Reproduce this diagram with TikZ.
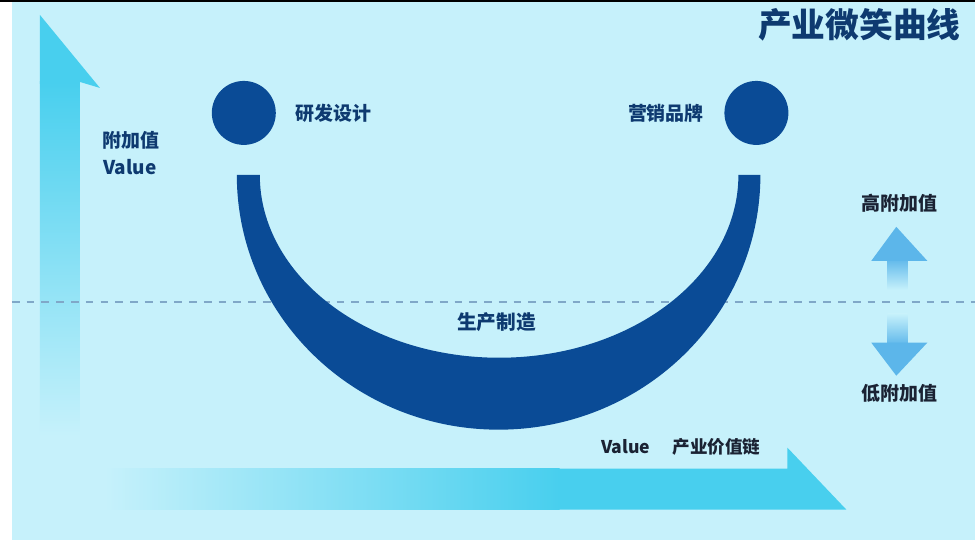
\documentclass[tikz,border=0pt]{standalone}
\usepackage{fontspec}
\newfontfamily\cjk{Noto Sans CJK SC}
\usetikzlibrary{positioning}
\definecolor{SmileBg}{HTML}{C6F1FB}
\definecolor{SmileNavy}{HTML}{0A4B96}
\definecolor{SmileInk}{HTML}{0E3A70}
\definecolor{SmileDark}{HTML}{1A2233}
\definecolor{SmileCyan}{HTML}{48CFEE}
\definecolor{SmileSky}{HTML}{5CB6EA}
\definecolor{SmileDash}{HTML}{80A8C8}

\begin{document}
\begin{tikzpicture}[x=0.025cm,y=-0.025cm,
  lbl/.style={inner sep=0pt,text=SmileInk,font=\cjk\bfseries\fontsize{13.5}{15}\selectfont},
  dark/.style={lbl,text=SmileDark},
  dot/.style={circle,fill=SmileNavy,inner sep=0pt,minimum size=1.6cm}]
  % panel
  \fill[white] (0,0) rectangle (976,540);
  \fill[SmileBg] (12,2) rectangle (976,540);
  \fill[black] (0,0) rectangle (976,2);
  % value axis
  \shade[top color=SmileCyan,middle color=SmileCyan!80!SmileBg,bottom color=SmileBg] (40,82) rectangle (80,436);
  \fill[SmileCyan] (40,84) -- (40,15) -- (100,88) -- (80,82) -- (80,84) -- cycle;
  % chain axis
  \shade[left color=SmileBg,middle color=SmileCyan!70!SmileBg,right color=SmileCyan] (105,469) rectangle (560,510);
  \fill[SmileCyan] (559,469) -- (788,469) -- (788,448) -- (847,510) -- (559,510) -- cycle;
  % middle line
  \draw[SmileDash,line width=1.1pt,dash pattern=on 5.5pt off 5pt] (12,302) -- (976,302);
  % high / low arrows
  \shade[top color=SmileSky,bottom color=SmileBg] (888,258) rectangle (908,290);
  \fill[SmileSky] (897,227) -- (928,261) -- (872,261) -- cycle;
  \shade[top color=SmileBg,bottom color=SmileSky] (888,314) rectangle (908,346);
  \fill[SmileSky] (872,343) -- (928,343) -- (897,376) -- cycle;
  % smile
  \fill[SmileNavy] (237,175) arc[start angle=180,end angle=0,x radius=262,y radius=255]
    -- (739,175) arc[start angle=0,end angle=180,x radius=239.5,y radius=183] -- cycle;
  \node[dot] (rd) at (244,113) {};
  \node[dot] (mk) at (757,113) {};
  \node[lbl,right=0.475cm of rd] (rdtext) {研发设计};
  \node[lbl,left=0.5cm of mk] (mktext) {营销品牌};
  \node[lbl,font=\cjk\bfseries\fontsize{14}{16}\selectfont] (mfg) at (497,322) {生产制造};
  \node[lbl] (vlabel) at (131,140) {附加值};
  \node[lbl] (vname) at (130,167) {Value};
  \node[dark] (hi) at (900,203) {高附加值};
  \node[dark] (lo) at (900,394) {低附加值};
  \node[dark,font=\cjk\bfseries\fontsize{12.5}{14}\selectfont] (xval) at (626,447) {Value};
  \node[dark,font=\cjk\bfseries\fontsize{12.5}{14}\selectfont,right=0.55cm of xval] (xname) {产业价值链};
  \node[lbl,text=SmileInk,font=\cjk\bfseries\fontsize{24}{27}\selectfont] (title) at (860,25) {产业微笑曲线};
\end{tikzpicture}
\end{document}
